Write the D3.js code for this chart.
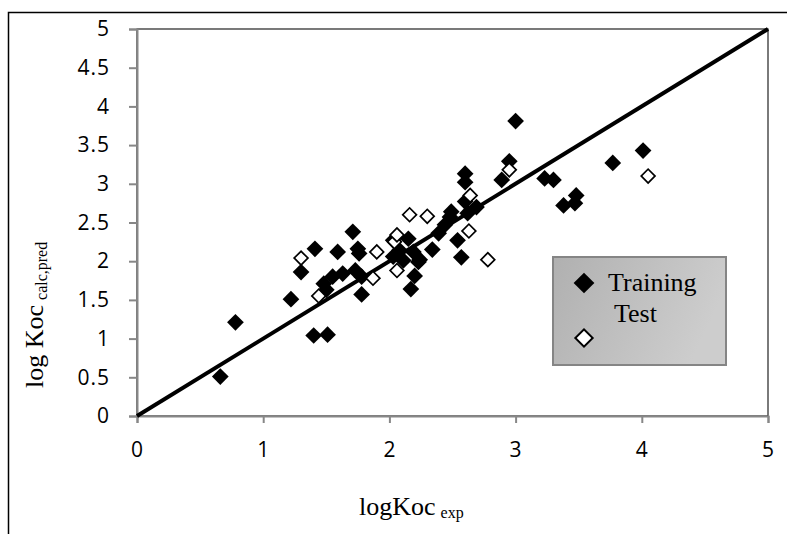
<!DOCTYPE html>
<html>
<head>
<meta charset="utf-8">
<script src="https://cdn.jsdelivr.net/npm/d3@7"></script>
<style>
  body { margin: 0; background: #fff; }
  svg { display: block; }
  .axis text { font-family: 'Open Sans', Lato, sans-serif; font-size: 21px; letter-spacing: 1px; fill: #000; }
</style>
</head>
<body>
<div id="chart"></div>
<script>
// data: [logKoc exp, logKoc calc/pred]
const training = [
  [0.66, 0.51], [0.78, 1.21], [1.22, 1.51], [1.30, 1.86], [1.41, 2.16],
  [1.40, 1.04], [1.51, 1.05], [1.48, 1.71], [1.50, 1.63], [1.55, 1.80],
  [1.59, 2.12], [1.63, 1.84], [1.71, 2.38], [1.73, 1.88], [1.75, 2.16],
  [1.76, 2.10], [1.78, 1.80], [1.78, 1.57], [2.03, 2.27], [2.15, 2.29],
  [2.03, 2.06], [2.11, 2.01], [2.23, 1.99], [2.19, 2.12], [2.20, 1.81],
  [2.17, 1.64], [2.08, 2.14], [2.24, 2.02], [2.34, 2.15], [2.39, 2.36],
  [2.44, 2.47], [2.48, 2.57], [2.49, 2.64], [2.54, 2.27], [2.57, 2.05],
  [2.60, 2.77], [2.60, 3.02], [2.60, 3.13], [2.62, 2.62], [2.69, 2.70],
  [2.89, 3.05], [2.95, 3.29], [3.00, 3.81], [3.23, 3.07], [3.30, 3.05],
  [3.38, 2.72], [3.47, 2.75], [3.48, 2.85], [3.77, 3.27], [4.01, 3.43]
];
const test = [
  [1.30, 2.04], [1.44, 1.55], [1.87, 1.78], [1.90, 2.12], [2.04, 2.25],
  [2.06, 1.88], [2.06, 2.34], [2.16, 2.60], [2.30, 2.58], [2.63, 2.39],
  [2.64, 2.85], [2.78, 2.02], [2.95, 3.18], [4.05, 3.10]
];
const fitLine = [[0, 0], [5, 5]];
const xTicks = [0, 1, 2, 3, 4, 5];
const yTicks = [0, 0.5, 1, 1.5, 2, 2.5, 3, 3.5, 4, 4.5, 5];

const W = 787, H = 534;
const plot = {left: 137, right: 768, top: 29, bottom: 416};

const svg = d3.select("#chart").append("svg")
    .attr("width", W)
    .attr("height", H);

const defs = svg.append("defs");
const grad = defs.append("linearGradient")
    .attr("id", "legendFill")
    .attr("x1", "0%").attr("y1", "0%")
    .attr("x2", "100%").attr("y2", "30%");
grad.append("stop").attr("offset", "0%").attr("stop-color", "#b0b0b0");
grad.append("stop").attr("offset", "100%").attr("stop-color", "#cdcdcd");

// outer chart frame (runs off the right and bottom edge)
svg.append("rect")
    .attr("x", 8.5).attr("y", 12.5)
    .attr("width", 820).attr("height", 560)
    .attr("fill", "none")
    .attr("stroke", "#000")
    .attr("stroke-width", 1.5);

const x = d3.scaleLinear().domain([0, 5]).range([plot.left, plot.right]);
const y = d3.scaleLinear().domain([0, 5]).range([plot.bottom, plot.top]);

// plot area border
svg.append("rect")
    .attr("x", plot.left).attr("y", plot.top)
    .attr("width", plot.right - plot.left)
    .attr("height", plot.bottom - plot.top)
    .attr("fill", "#fff")
    .attr("stroke", "#222")
    .attr("stroke-width", 1.2);

// axes
const yAxis = svg.append("g")
    .attr("class", "axis")
    .attr("transform", `translate(${plot.left},0)`)
    .call(d3.axisLeft(y).tickValues(yTicks).tickSize(8).tickPadding(19)
        .tickFormat(d => d));
const xAxis = svg.append("g")
    .attr("class", "axis")
    .attr("transform", `translate(0,${plot.bottom})`)
    .call(d3.axisBottom(x).tickValues(xTicks).tickSize(7).tickPadding(19)
        .tickFormat(d => d));

[xAxis, yAxis].forEach(function (g) {
    g.select(".domain").attr("stroke", "#878787").attr("stroke-width", 2);
    g.selectAll(".tick line").attr("stroke", "#878787").attr("stroke-width", 2);
});

// 1:1 line
svg.append("path")
    .datum(fitLine)
    .attr("d", d3.line().x(d => x(d[0])).y(d => y(d[1])))
    .attr("stroke", "#000")
    .attr("stroke-width", 4)
    .attr("fill", "none");

// markers: squares turned 45 degrees, like Excel diamonds
const bigDiamond = d3.symbol().type(d3.symbolSquare).size(140);
const smallDiamond = d3.symbol().type(d3.symbolSquare).size(95);

svg.append("g")
    .selectAll("path")
    .data(training)
    .enter()
    .append("path")
    .attr("d", bigDiamond)
    .attr("transform", d => `translate(${x(d[0])},${y(d[1])}) rotate(45)`)
    .attr("fill", "#000");

svg.append("g")
    .selectAll("path")
    .data(test)
    .enter()
    .append("path")
    .attr("d", smallDiamond)
    .attr("transform", d => `translate(${x(d[0])},${y(d[1])}) rotate(45)`)
    .attr("fill", "#fff")
    .attr("stroke", "#000")
    .attr("stroke-width", 1.7);

// legend
const legend = svg.append("g");
legend.append("rect")
    .attr("x", 553).attr("y", 257)
    .attr("width", 173).attr("height", 108)
    .attr("fill", "url(#legendFill)")
    .attr("stroke", "#858585")
    .attr("stroke-width", 2);
legend.append("path")
    .attr("d", d3.symbol().type(d3.symbolSquare).size(215))
    .attr("transform", "translate(584,283) rotate(45)")
    .attr("fill", "#000");
legend.append("path")
    .attr("d", d3.symbol().type(d3.symbolSquare).size(150))
    .attr("transform", "translate(584,338) rotate(45)")
    .attr("fill", "#fff")
    .attr("stroke", "#000")
    .attr("stroke-width", 2);
legend.append("text")
    .attr("x", 608).attr("y", 291)
    .text("Training")
    .style("font-family", "'Liberation Serif', 'DejaVu Serif', serif")
    .style("font-size", "26px");
legend.append("text")
    .attr("x", 614).attr("y", 322)
    .text("Test")
    .style("font-family", "'Liberation Serif', 'DejaVu Serif', serif")
    .style("font-size", "26px");

// axis titles
const xTitle = svg.append("text")
    .attr("x", 359).attr("y", 515)
    .style("font-family", "'Liberation Serif', 'DejaVu Serif', serif")
    .style("font-size", "26px");
xTitle.append("tspan").text("logKoc");
xTitle.append("tspan")
    .attr("dx", 5).attr("dy", 3)
    .style("font-size", "16px")
    .text("exp");

const yTitle = svg.append("text")
    .attr("transform", "translate(43,388) rotate(-90)")
    .style("font-family", "'Liberation Serif', 'DejaVu Serif', serif")
    .style("font-size", "26px");
yTitle.append("tspan").text("log Koc");
yTitle.append("tspan")
    .attr("dx", 5).attr("dy", 4)
    .style("font-size", "16px")
    .text("calc,pred");
</script>
</body>
</html>
